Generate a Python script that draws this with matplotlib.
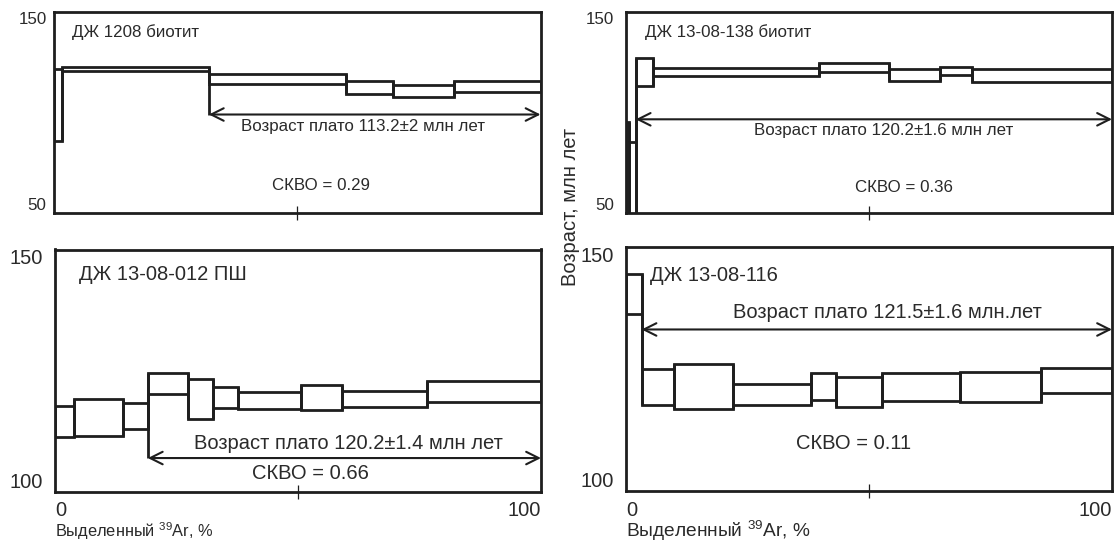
import matplotlib
matplotlib.use("Agg")
import matplotlib.pyplot as plt
from matplotlib.patches import Rectangle

plt.rcParams['font.family'] = ['Liberation Sans', 'DejaVu Sans']
plt.rcParams['mathtext.fontset'] = 'custom'
plt.rcParams['mathtext.rm'] = 'Liberation Sans'
plt.rcParams['mathtext.it'] = 'Liberation Sans'

# ---------------- data ----------------
# Panel A: ДЖ 1208 биотит
a_title = "ДЖ 1208 биотит"
a_edges = [0, 1.7, 31.9, 60.1, 69.7, 82.3, 100]
a_tops = [121.7, 122.4, 119.2, 115.8, 113.7, 115.8]
a_bottoms = [86.0, 120.4, 114.2, 109.0, 107.5, 110.0]
a_plateau_start = 31.9
a_plateau_y = 99.0
a_plateau_text = "Возраст плато 113.2±2 млн лет"
a_mswd_text = "СКВО = 0.29"
a_ylim = [50, 150]

# Panel B: ДЖ 13-08-138 биотит
b_title = "ДЖ 13-08-138 биотит"
b_edges = [0, 0.8, 2.1, 5.7, 39.8, 54.1, 64.7, 71.3, 100]
b_tops = [95.3, 85.4, 127.1, 122.1, 124.3, 121.7, 122.5, 121.3]
b_bottoms = [30.0, 30.0, 113.2, 118.0, 120.0, 115.3, 118.7, 115.0]
b_plateau_start = 2.1
b_plateau_y = 96.5
b_plateau_text = "Возраст плато 120.2±1.6 млн лет"
b_mswd_text = "СКВО = 0.36"
b_ylim = [50, 150]

# Panel C: ДЖ 13-08-012 ПШ
c_title = "ДЖ 13-08-012 ПШ"
c_edges = [0, 3.9, 13.9, 19.1, 27.3, 32.5, 37.6, 50.6, 59.1, 76.5, 100]
c_tops = [117.7, 119.1, 118.4, 124.6, 123.4, 121.7, 120.7, 122.1, 120.8, 122.8]
c_bottoms = [111.3, 111.5, 113.0, 120.2, 115.1, 117.3, 117.1, 117.0, 117.5, 118.6]
c_plateau_start = 19.1
c_plateau_y = 107.0
c_plateau_text = "Возраст плато 120.2±1.4 млн лет"
c_mswd_text = "СКВО = 0.66"
c_ylim = [100, 150]

# Panel D: ДЖ 13-08-116
d_title = "ДЖ 13-08-116"
d_edges = [0, 3.2, 9.9, 22.1, 38.0, 43.3, 52.6, 68.7, 85.4, 100]
d_tops = [144.4, 125.0, 126.1, 121.9, 124.1, 123.3, 124.1, 124.4, 125.3]
d_bottoms = [136.2, 117.6, 116.9, 117.6, 118.7, 117.3, 118.5, 118.3, 120.0]
d_plateau_start = 3.2
d_plateau_y = 133.1
d_plateau_text = "Возраст плато 121.5±1.6 млн.лет"
d_mswd_text = "СКВО = 0.11"
d_ylim = [100, 150]

x_tick_labels = ["0", "100"]
x_label = r"Выделенный $^{39}$Ar, %"
y_label = "Возраст, млн лет"

# ---------------- layout ----------------
W, H = 1117, 542
fig = plt.figure(figsize=(W / 100, H / 100), dpi=100)
fig.patch.set_facecolor('white')

def rect(l, t, r, b):
    return [l / W, (H - b) / H, (r - l) / W, (b - t) / H]

INK = '#1e1e1e'
TXT = '#2a2a2a'

panels = [
    dict(pos=rect(53.5, 12, 540.5, 213), title=a_title, edges=a_edges, tops=a_tops,
         bottoms=a_bottoms, ps=a_plateau_start, py=a_plateau_y, ptext=a_plateau_text,
         mtext=a_mswd_text, ylim=a_ylim, fs=12.2, ypad=5,
         title_xy=(3.9, 140), ptext_xy=(63.5, 93), mtext_xy=(55, 63.5), bottom_row=False),
    dict(pos=rect(625.5, 11.5, 1112, 213), title=b_title, edges=b_edges, tops=b_tops,
         bottoms=b_bottoms, ps=b_plateau_start, py=b_plateau_y, ptext=b_plateau_text,
         mtext=b_mswd_text, ylim=b_ylim, fs=12.2, ypad=8,
         title_xy=(4.0, 140), ptext_xy=(53, 90.8), mtext_xy=(57.3, 62.5), bottom_row=False),
    dict(pos=rect(55, 249.5, 541, 492), title=c_title, edges=c_edges, tops=c_tops,
         bottoms=c_bottoms, ps=c_plateau_start, py=c_plateau_y, ptext=c_plateau_text,
         mtext=c_mswd_text, ylim=c_ylim, fs=14.5, ypad=9,
         title_xy=(4.9, 144.9), ptext_xy=(60.3, 110.1), mtext_xy=(52.6, 103.9), bottom_row=True),
    dict(pos=rect(626, 247, 1112, 491), title=d_title, edges=d_edges, tops=d_tops,
         bottoms=d_bottoms, ps=d_plateau_start, py=d_plateau_y, ptext=d_plateau_text,
         mtext=d_mswd_text, ylim=d_ylim, fs=14.5, ypad=9,
         title_xy=(4.9, 144.2), ptext_xy=(53.7, 136.5), mtext_xy=(46.9, 109.7), bottom_row=True),
]

for p in panels:
    ax = fig.add_axes(p['pos'])
    ax.set_xlim(0, 100)
    ax.set_ylim(*p['ylim'])
    for s in ax.spines.values():
        s.set_linewidth(2.0)
        s.set_color(INK)
        s.set_zorder(5)
    edges, tops, bots = p['edges'], p['tops'], p['bottoms']
    # boxes
    for i in range(len(tops)):
        ax.add_patch(Rectangle((edges[i], bots[i]), edges[i + 1] - edges[i], tops[i] - bots[i],
                               fill=False, edgecolor=INK, lw=2.0, zorder=3))
    # step connectors between consecutive boxes
    for i in range(len(tops) - 1):
        x = edges[i + 1]
        ax.vlines(x, min(tops[i], tops[i + 1]), max(tops[i], tops[i + 1]), color=INK, lw=2.0, zorder=3)
        ax.vlines(x, min(bots[i], bots[i + 1]), max(bots[i], bots[i + 1]), color=INK, lw=2.0, zorder=3)
    # plateau marker line
    k = edges.index(p['ps'])
    if p['py'] < bots[k]:
        ax.vlines(p['ps'], p['py'], bots[k], color=INK, lw=2.0, zorder=3)
    # plateau arrow
    ax.annotate('', xy=(100, p['py']), xytext=(p['ps'], p['py']),
                arrowprops=dict(arrowstyle='<->,head_length=0.9,head_width=0.45',
                                lw=1.5, color=INK, shrinkA=0, shrinkB=0),
                annotation_clip=False, zorder=4)
    fs = p['fs']
    ax.text(*p['title_xy'], p['title'], fontsize=fs, color=TXT, ha='left', va='center')
    ax.text(*p['ptext_xy'], p['ptext'], fontsize=fs, color=TXT, ha='center', va='center')
    ax.text(*p['mtext_xy'], p['mtext'], fontsize=fs, color=TXT, ha='center', va='center')

    # y ticks: only labels at the limits
    ax.set_yticks(p['ylim'])
    ax.set_yticklabels([str(v) for v in p['ylim']], fontsize=fs, color=TXT)
    ax.tick_params(axis='y', length=0, pad=p['ypad'])
    ylabs = ax.get_yticklabels()
    ylabs[0].set_va('bottom')
    ylabs[1].set_va('top')

    # x: single mid tick crossing the axis
    ax.set_xticks([50])
    ax.set_xticklabels([''])
    ax.tick_params(axis='x', direction='inout', length=10, width=0.9, color=INK)

    if p['bottom_row']:
        ax.annotate(x_tick_labels[0], xy=(0, 0), xycoords='axes fraction',
                    xytext=(0, -17), textcoords='offset pixels', fontsize=fs,
                    color=TXT, ha='left', va='center_baseline')
        ax.annotate(x_tick_labels[1], xy=(1, 0), xycoords='axes fraction',
                    xytext=(0, -17), textcoords='offset pixels', fontsize=fs,
                    color=TXT, ha='right', va='center_baseline')

# x labels
fig.text(55 / W, 1 - 537 / H, x_label, fontsize=11.8, color=TXT, ha='left', va='baseline')
fig.text(626 / W, 1 - 537 / H, x_label, fontsize=13.8, color=TXT, ha='left', va='baseline')
# shared y label
fig.text(571 / W, 1 - 207 / H, y_label, fontsize=14.5, color=TXT, rotation=90,
         ha='center', va='center')

fig.savefig('out.png', dpi=100, facecolor='white')
